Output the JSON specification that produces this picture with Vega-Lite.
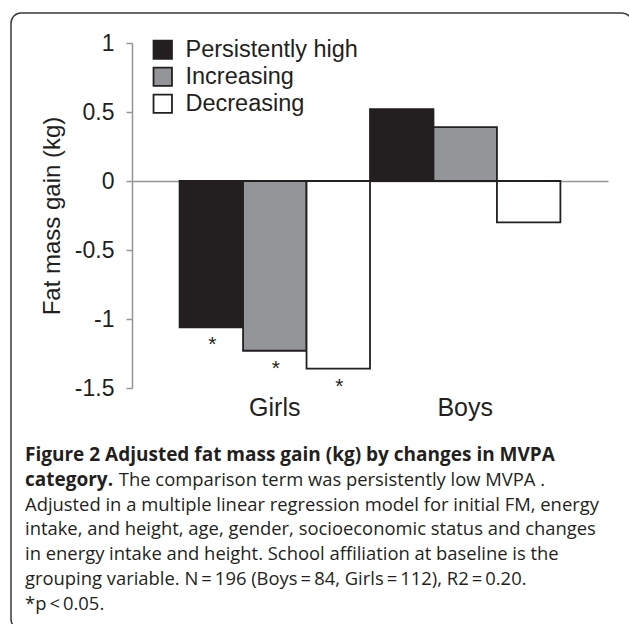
{
  "$schema": "https://vega.github.io/schema/vega-lite/v6.json",
  "width": 621,
  "height": 616,
  "autosize": {"type": "none"},
  "padding": {"left": 11, "top": 13, "right": -3, "bottom": -5},
  "background": "white",
  "config": {
    "font": "Liberation Sans",
    "view": {"stroke": "#3a3a3a", "strokeWidth": 1.5, "cornerRadius": 10}
  },
  "title": {
    "text": ["Figure 2 Adjusted fat mass gain (kg) by changes in MVPA", "category."],
    "subtitle": [
      "\u200b\u00a0\u00a0\u00a0\u00a0\u00a0\u00a0\u00a0\u00a0\u00a0\u00a0\u00a0\u00a0\u00a0\u00a0\u00a0\u00a0\u00a0\u00a0\u00a0\u2009The comparison term was persistently low MVPA .",
      "Adjusted in a multiple linear regression model for initial FM, energy",
      "intake, and height, age, gender, socioeconomic status and changes",
      "in energy intake and height. School affiliation at baseline is the",
      "grouping variable. N\u2009=\u2009196 (Boys\u2009=\u200984, Girls\u2009=\u2009112), R2\u2009=\u20090.20.",
      "*p\u2009<\u20090.05."
    ],
    "orient": "bottom",
    "anchor": "start",
    "frame": "group",
    "offset": -183,
    "dx": 14,
    "align": "left",
    "baseline": "top",
    "font": "Open Sans",
    "fontSize": 19,
    "fontWeight": "bold",
    "color": "#231f20",
    "lineHeight": 24.7,
    "subtitleFont": "Open Sans",
    "subtitleFontSize": 18.4,
    "subtitleFontWeight": "normal",
    "subtitleColor": "#231f20",
    "subtitleLineHeight": 24.7,
    "subtitlePadding": -18.7
  },
  "data": {
    "values": [
      {"group": "Girls", "category": "Persistently high", "value": -1.06, "star": "*"},
      {"group": "Girls", "category": "Increasing", "value": -1.23, "star": "*"},
      {"group": "Girls", "category": "Decreasing", "value": -1.36, "star": "*"},
      {"group": "Boys", "category": "Persistently high", "value": 0.52, "star": ""},
      {"group": "Boys", "category": "Increasing", "value": 0.39, "star": ""},
      {"group": "Boys", "category": "Decreasing", "value": -0.30, "star": ""}
    ]
  },
  "layer": [
    {
      "mark": {"type": "bar", "stroke": "#231f20", "strokeWidth": 1.8},
      "encoding": {
        "x": {
          "field": "group",
          "type": "nominal",
          "sort": ["Girls", "Boys"],
          "scale": {"range": [121, 597], "paddingInner": 0, "paddingOuter": 0.25},
          "axis": {
            "orient": "bottom",
            "offset": -241,
            "domain": false,
            "ticks": false,
            "grid": false,
            "title": null,
            "labelAngle": 0,
            "labelFontSize": 25,
            "labelColor": "#231f20",
            "labelPadding": 7
          }
        },
        "xOffset": {
          "field": "category",
          "type": "nominal",
          "sort": ["Persistently high", "Increasing", "Decreasing"],
          "scale": {"paddingInner": 0, "paddingOuter": 0}
        },
        "y": {
          "field": "value",
          "type": "quantitative",
          "scale": {"domain": [-1.5, 1], "range": [375, 30], "nice": false, "zero": false},
          "axis": {
            "orient": "left",
            "offset": -121,
            "values": [-1.5, -1, -0.5, 0, 0.5, 1],
            "labelExpr": "datum.value < 0 ? '-' + format(-datum.value, '~g') : format(datum.value, '~g')",
            "grid": false,
            "domainColor": "#939598",
            "domainWidth": 1.5,
            "tickColor": "#939598",
            "tickWidth": 1.5,
            "tickSize": 6,
            "labelPadding": 12,
            "labelFontSize": 23,
            "labelColor": "#231f20",
            "title": "Fat mass gain (kg)",
            "titleFontSize": 24,
            "titleFontWeight": "normal",
            "titleColor": "#231f20",
            "titlePadding": 10
          }
        },
        "fill": {
          "field": "category",
          "type": "nominal",
          "sort": ["Persistently high", "Increasing", "Decreasing"],
          "scale": {
            "domain": ["Persistently high", "Increasing", "Decreasing"],
            "range": ["#231f20", "#939598", "#ffffff"]
          },
          "legend": {
            "orient": "none",
            "legendX": 140,
            "legendY": 25,
            "title": null,
            "padding": 0,
            "symbolType": "square",
            "symbolSize": 340,
            "symbolStrokeColor": "#231f20",
            "symbolStrokeWidth": 1.8,
            "symbolOpacity": 1,
            "labelFont": "Liberation Sans",
            "labelFontSize": 23.5,
            "labelColor": "#231f20",
            "labelOffset": 11,
            "labelLimit": 0,
            "rowPadding": 0
          }
        }
      }
    },
    {
      "mark": {"type": "text", "baseline": "top", "align": "center", "dy": 7, "dx": 1, "fontSize": 21, "color": "#231f20"},
      "encoding": {
        "x": {
          "field": "group",
          "type": "nominal",
          "sort": ["Girls", "Boys"],
          "axis": {
            "orient": "top",
            "offset": -168,
            "labels": false,
            "ticks": false,
            "grid": false,
            "title": null,
            "domain": true,
            "domainColor": "#939598",
            "domainWidth": 1.5
          }
        },
        "xOffset": {
          "field": "category",
          "type": "nominal",
          "sort": ["Persistently high", "Increasing", "Decreasing"]
        },
        "y": {"field": "value", "type": "quantitative"},
        "text": {"field": "star"}
      }
    }
  ],
  "resolve": {"axis": {"x": "independent"}}
}
